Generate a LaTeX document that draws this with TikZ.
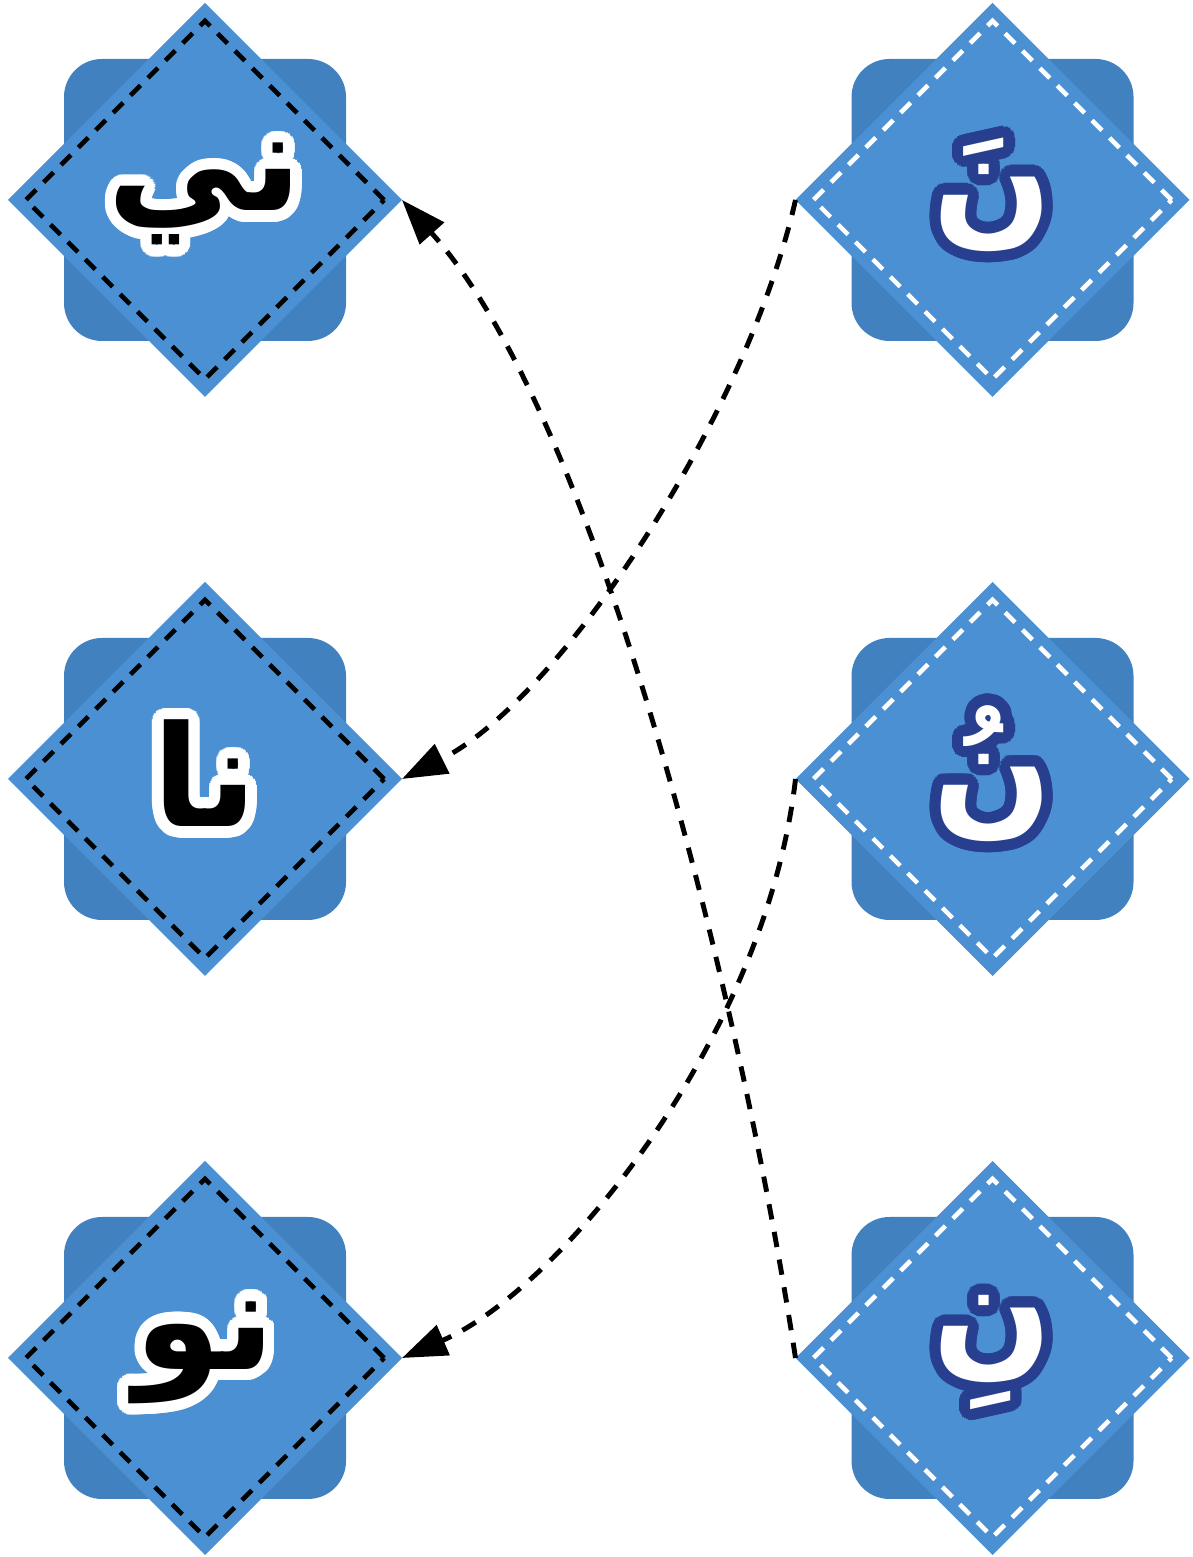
\documentclass[tikz,border=0pt]{standalone}
\usepackage{fontspec}
\usepackage[copies]{contour}
\usetikzlibrary{shapes.geometric,arrows.meta}
\newfontfamily\arabicfont[Script=Arabic]{DejaVu Sans}
\TeXXeTstate=1
\definecolor{tileback}{HTML}{4281C0}
\definecolor{tilefront}{HTML}{4A90D2}
\definecolor{inkblue}{HTML}{283F90}
\contournumber{32}
\contourlength{3.2pt}

\tikzset{
  tilesq/.style={rectangle, rounded corners=0.38cm, fill=tileback, minimum size=2.82cm, inner sep=0pt, outer sep=0pt},
  tiledm/.style={diamond, fill=tilefront, minimum size=3.94cm, inner sep=0pt, outer sep=0pt, font=\arabicfont\bfseries\fontsize{40}{46}\selectfont},
  tiledash/.style={diamond, dash pattern=on 4pt off 3pt, line width=1.3pt, minimum size=3.6cm, inner sep=0pt},
  jump/.style={dash pattern=on 4.4pt off 3.6pt, line width=1.4pt, -{Triangle[length=0.45cm,width=0.32cm]}}
}

% one tile: name, x, y, colour of the dashes, text
\newcommand{\Tile}[5]{%
  \node[tilesq] (#1-sq) at (#2,#3) {};
  \node[tiledm] (#1) at (#2,#3) {#5};
  \node[tiledash, draw=#4] (#1-dash) at (#2,#3) {};
}

\begin{document}
\begin{tikzpicture}
        \useasboundingbox (0,0) rectangle (11.92,15.57);
        \Tile{ni}{2.05}{13.57}{black}{\contour{white}{\beginR ني\endR}}
        \Tile{na}{2.05}{7.78}{black}{\contour{white}{\beginR نا\endR}}
        \Tile{nu}{2.05}{1.99}{black}{\contour{white}{\beginR نو\endR}}
        \Tile{fatha}{9.925}{13.57}{white}{\color{white}\contour{inkblue}{\beginR نَ\endR}}
        \Tile{damma}{9.925}{7.78}{white}{\color{white}\contour{inkblue}{\beginR نُ\endR}}
        \Tile{kasra}{9.925}{1.99}{white}{\color{white}\contour{inkblue}{\beginR نِ\endR}}

        \draw[jump] (fatha.west) .. controls +(-0.5,-2.2) and +(1.57,0.79) .. (na.east);
        \draw[jump] (damma.west) .. controls +(-0.3,-2.6) and +(1.57,0.68) .. (nu.east);
        \draw[jump] (kasra.west) .. controls +(-0.55,3.58) and +(1.97,-2.2) .. (ni.east);
        % \draw[jump] (fatha.west) -- (ni.east);

\end{tikzpicture}
\end{document}
